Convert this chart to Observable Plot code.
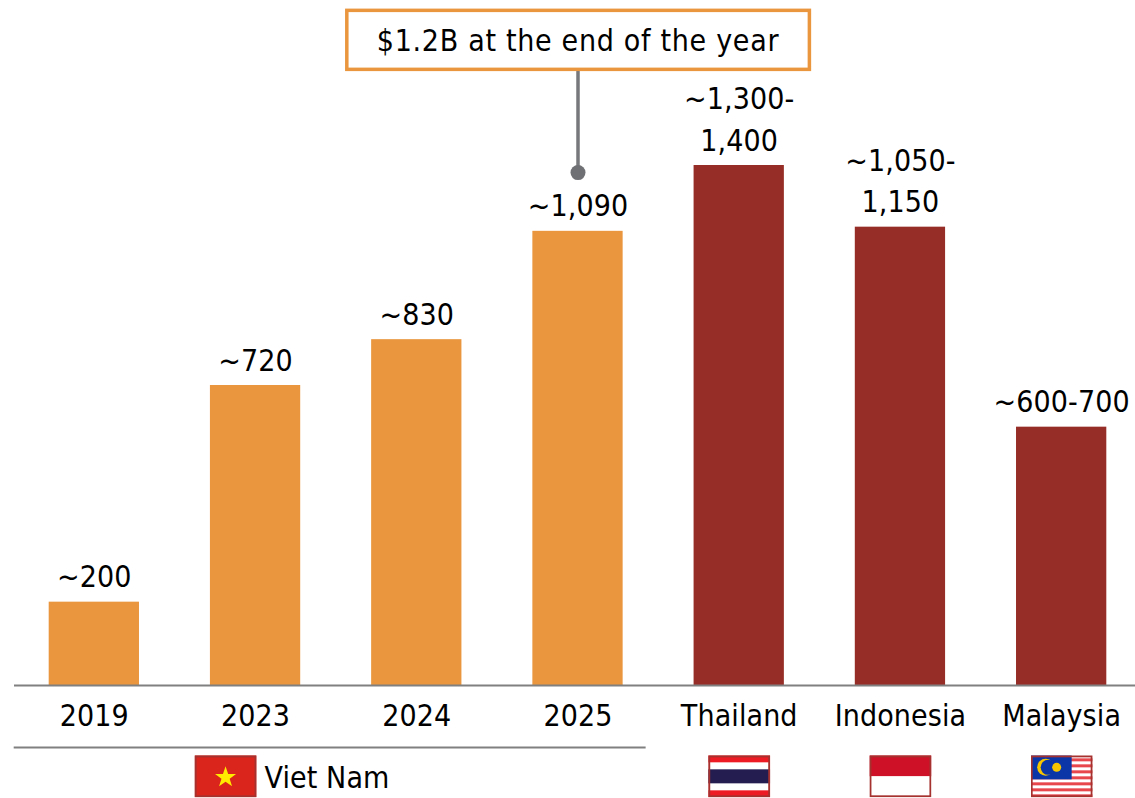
<!DOCTYPE html>
<html>
<head>
<meta charset="utf-8">
<script src="https://cdn.jsdelivr.net/npm/d3@7"></script>
<script src="https://cdn.jsdelivr.net/npm/@observablehq/plot@0.6"></script>
<style>
html,body{margin:0;padding:0;background:#fff}
svg{display:block}
svg text{font-family:"DejaVu Sans";font-stretch:condensed;letter-spacing:.1px}
</style>
</head>
<body>
<script>
const categories = ["2019","2023","2024","2025","Thailand","Indonesia","Malaysia"];
const values = [200,720,830,1090,1248,1100,620];
const labels = ["~200","~720","~830","~1,090","~1,300-\n1,400","~1,050-\n1,150","~600-700"];
const groups = ["vn","vn","vn","vn","peer","peer","peer"];
const calloutText = "$1.2B at the end of the year";
const calloutCategory = "2025";
const calloutValue = 1231;
const calloutTop = 1481;
const calloutTextValue = 1545;
const groupRuleValue = -149;
const flagValue = -218;
const groupName = "Viet Nam";
const groupCategory = "2023";

const svgUri = s => "data:image/svg+xml;utf8," + encodeURIComponent(`<svg xmlns="http://www.w3.org/2000/svg" viewBox="0 0 62 42" width="62" height="42">${s}<rect x="1" y="1" width="60" height="40" fill="none" stroke="#a5322f" stroke-width="2"/></svg>`);
const flagVN = svgUri(`<rect width="62" height="42" fill="#da251d"/><polygon fill="#ffeb00" points="31,11 33.6,18.6 41.5,18.6 35.1,23.4 37.5,31 31,26.3 24.5,31 26.9,23.4 20.5,18.6 28.4,18.6"/>`);
const flagTH = svgUri(`<rect width="62" height="42" fill="#ed1c24"/><rect y="7" width="62" height="28" fill="#fff"/><rect y="14" width="62" height="14" fill="#241d4f"/>`);
const flagID = svgUri(`<rect width="62" height="21" fill="#ce1126"/><rect y="21" width="62" height="21" fill="#fff"/>`);
const malaysiaStripes = [3,9,15,21,27,33,39].map(y=>`<rect y="${y}" width="62" height="3" fill="#e8474c"/>`).join("");
const flagMY = svgUri(`<rect width="62" height="42" fill="#fff"/>${malaysiaStripes}<rect width="41" height="24" fill="#0b36a8"/><circle cx="15" cy="12" r="8.5" fill="#f7c600"/><circle cx="17.5" cy="12" r="7.5" fill="#0b36a8"/><circle cx="26" cy="12" r="4.5" fill="#f7c600"/>`);
const flagSources = [flagTH, flagID, flagMY];
const flagCategories = ["Thailand","Indonesia","Malaysia"];

const rows = categories.map((c,i)=>({c, v:values[i], label:labels[i], g:groups[i]}));

const plot = Plot.plot({
  width:1135, height:798,
  marginLeft:14, marginRight:0, marginTop:0, marginBottom:113,
  x:{type:"band", domain:categories, range:[20,1135], paddingInner:.44, paddingOuter:.178, round:false},
  y:{domain:[0,1644], axis:null},
  color:{domain:["vn","peer"], range:["#E9963E","#962D26"]},
  marks:[
    Plot.barY(rows,{x:"c",y:"v",fill:"g"}),
    Plot.ruleY([0],{stroke:"#808080",strokeWidth:2}),
    Plot.axisX({tickSize:0,tickPadding:19,fontSize:30,label:null,anchor:"bottom",fill:"#000"}),
    Plot.text(rows,{x:"c",y:"v",text:"label",lineAnchor:"bottom",dy:-15,fontSize:30,lineHeight:1.37,fill:"#000"}),
    Plot.ruleX([calloutCategory],{x:d=>d,y1:calloutValue,y2:calloutTop,stroke:"#77787b",strokeWidth:3.5}),
    Plot.dot([calloutCategory],{x:d=>d,y:calloutValue,r:7.5,fill:"#6f7074"}),
    Plot.text([calloutText],{x:()=>calloutCategory,y:calloutTextValue,text:d=>d,fontSize:30,fill:"#000"}),
    Plot.ruleY([groupRuleValue],{x1:()=>categories[0],x2:()=>calloutCategory,insetLeft:-35,insetRight:-23,stroke:"#808080",strokeWidth:2}),
    Plot.text([groupName],{x:()=>groupCategory,y:flagValue,text:d=>d,dx:9,dy:2,textAnchor:"start",fontSize:30,fill:"#000"}),
    Plot.image([flagVN],{x:()=>groupCategory,y:flagValue,src:d=>d,width:62,height:42,dx:-30}),
    Plot.image(flagCategories,{x:d=>d,y:flagValue,src:(d,i)=>flagSources[i],width:62,height:42})
  ]
});
document.body.append(plot);
const t = [...plot.querySelectorAll("text")].find(e => e.textContent === calloutText);
t.style.letterSpacing = "0.7px";
const b = t.getBBox();
const r = document.createElementNS("http://www.w3.org/2000/svg","rect");
r.setAttribute("x",b.x-30); r.setAttribute("y",b.y-13);
r.setAttribute("width",b.width+60); r.setAttribute("height",b.height+24);
if (t.getAttribute("transform")) r.setAttribute("transform",t.getAttribute("transform"));
r.setAttribute("fill","#fff"); r.setAttribute("stroke","#E9963E"); r.setAttribute("stroke-width",3.5);
t.parentNode.insertBefore(r,t);
</script>
</body>
</html>
